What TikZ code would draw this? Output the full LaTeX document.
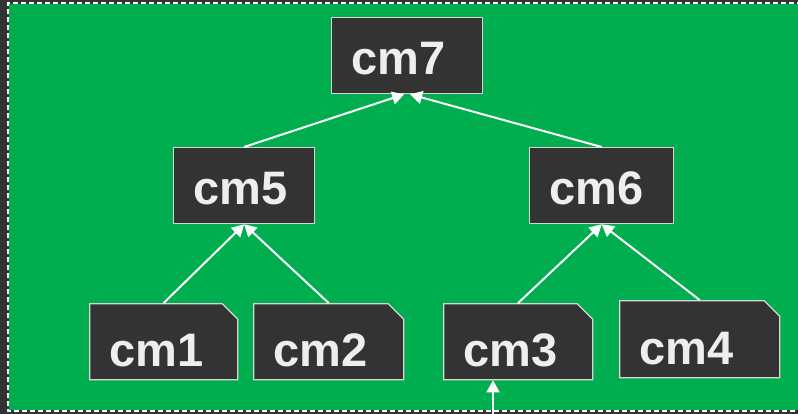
\documentclass[tikz,border=0pt]{standalone}
\usepackage{fontspec}
\setmainfont{Liberation Sans}
\usetikzlibrary{shapes.misc,arrows.meta}

\definecolor{panel}{HTML}{333333}
\definecolor{lawn}{HTML}{00AE4F}
\definecolor{chalk}{HTML}{EEEEEE}

\tikzset{
  cmbox/.style={draw=chalk!90!black, fill=panel, text=chalk, line width=1.3pt,
    font=\fontsize{47}{50}\selectfont\bfseries, align=left,
    inner xsep=20pt, inner ysep=0pt, text height=57pt, text depth=19pt,
    anchor=north west},
  % the chamfer adds to the box, so less padding here
  cmleaf/.style={cmbox, chamfered rectangle, chamfered rectangle corners=north east,
    chamfered rectangle xsep=12pt, inner xsep=8pt, text height=59pt, text depth=10pt},
  link/.style={draw=white, line width=2pt, -{Triangle[length=12pt,width=13pt]}}
}

\begin{document}
\begin{tikzpicture}[x=1pt,y=-1pt]

\clip (0,0) rectangle (798,414);
\fill[panel] (0,0) rectangle (798,414);

% the frame round the tree
\fill[lawn] (8,3) rectangle (810,411);
\draw[panel, line width=2pt] (810,3) -- (8,3) -- (8,411) -- (810,411);
\draw[white, line width=2pt, dash pattern=on 5pt off 3pt] (810,3) -- (8,3) -- (8,411) -- (810,411);

% top and middle
\node[cmbox, text width=111pt] (cm7) at (331,17) {cm7};
\node[cmbox, text width=101pt] (cm5) at (173,147) {cm5};
\node[cmbox, text width=104pt] (cm6) at (529,147) {cm6};

% leaves
\node[cmleaf, text width=108pt] (cm1) at (89,303) {cm1};
\node[cmleaf, text width=110pt] (cm2) at (253,303) {cm2};
\node[cmleaf, text width=109pt] (cm3) at (443,303) {cm3};
\node[cmleaf, text width=120pt, text height=60pt] (cm4) at (619,300) {cm4};

\draw[link] (cm1.north) -- (cm5.south);
\draw[link] (cm2.north) -- (cm5.south);
\draw[link] (cm3.north) -- (cm6.south);
\draw[link] (cm4.north) -- (cm6.south);
\draw[link] (cm5.north) -- ([xshift=-3pt]cm7.south);
\draw[link] (cm6.north) -- ([xshift=3pt]cm7.south);

\coordinate (feed) at (493,414);
\draw[link] (feed) -- (feed |- cm3.south);

\end{tikzpicture}
\end{document}
